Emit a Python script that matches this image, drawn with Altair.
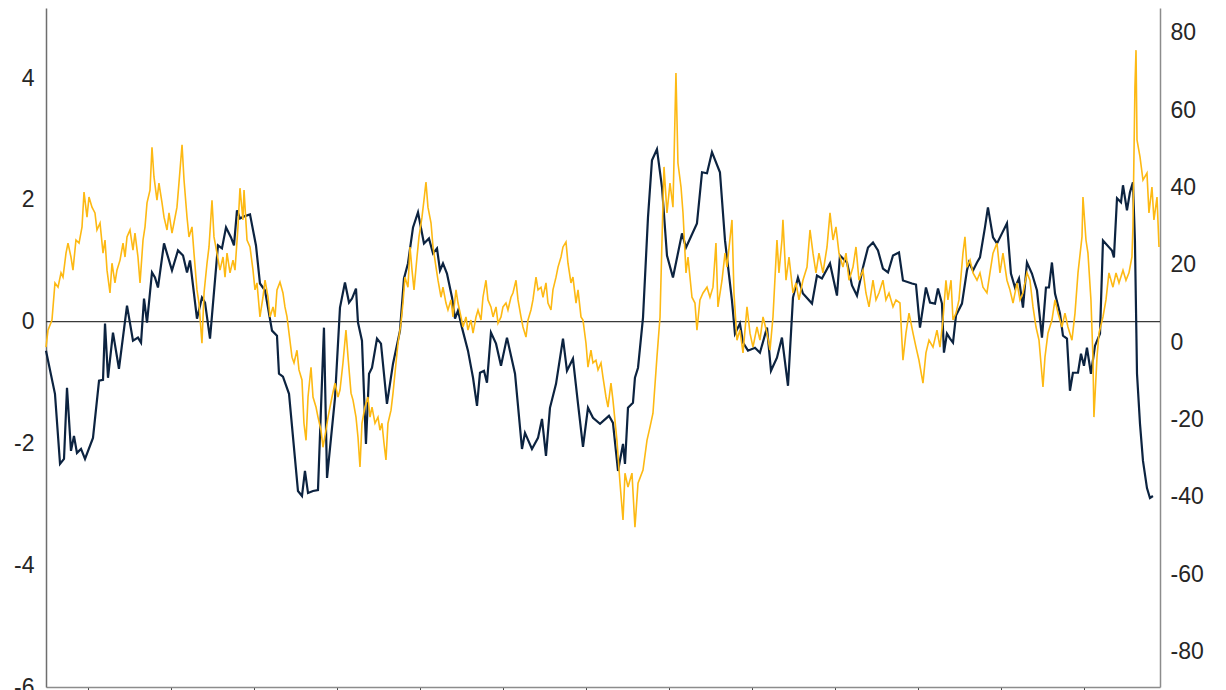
import altair as alt
import pandas as pd

# time in years relative to the first x-axis tick
navy_t = [
    -0.506, -0.398, -0.337, -0.289, -0.253, -0.205, -0.169, -0.133, -0.084, -0.036,
    0.060, 0.133, 0.181, 0.205, 0.241, 0.301, 0.373, 0.470, 0.542, 0.602,
    0.639, 0.675, 0.711, 0.771, 0.807, 0.843, 0.916, 1.012, 1.084, 1.145,
    1.193, 1.229, 1.313, 1.373, 1.410, 1.470, 1.566, 1.614, 1.663, 1.723,
    1.759, 1.795, 1.831, 1.880, 1.952, 2.024, 2.072, 2.133, 2.217, 2.277,
    2.301, 2.349, 2.422, 2.530, 2.578, 2.614, 2.651, 2.711, 2.771, 2.843,
    2.880, 2.976, 3.036, 3.096, 3.145, 3.181, 3.229, 3.253, 3.301, 3.349,
    3.386, 3.422, 3.482, 3.530, 3.602, 3.675, 3.759, 3.807, 3.855, 3.916,
    3.976, 4.048, 4.108, 4.157, 4.205, 4.241, 4.277, 4.325, 4.386, 4.422,
    4.458, 4.506, 4.578, 4.639, 4.687, 4.723, 4.771, 4.807, 4.855, 4.916,
    4.976, 5.048, 5.145, 5.229, 5.265, 5.349, 5.422, 5.470, 5.518, 5.566,
    5.639, 5.723, 5.771, 5.843, 5.904, 5.964, 6.024, 6.084, 6.169, 6.277,
    6.325, 6.386, 6.446, 6.470, 6.506, 6.566, 6.590, 6.627, 6.687, 6.747,
    6.795, 6.855, 6.916, 6.976, 7.048, 7.157, 7.205, 7.337, 7.398, 7.458,
    7.518, 7.614, 7.675, 7.759, 7.795, 7.855, 7.892, 7.952, 8.036, 8.096,
    8.181, 8.229, 8.301, 8.361, 8.434, 8.494, 8.554, 8.614, 8.723, 8.783,
    8.843, 8.940, 9.024, 9.060, 9.145, 9.205, 9.265, 9.337, 9.398, 9.458,
    9.518, 9.578, 9.639, 9.699, 9.771, 9.819, 9.928, 9.976, 10.024, 10.096,
    10.145, 10.205, 10.241, 10.289, 10.313, 10.349, 10.386, 10.422, 10.458, 10.530,
    10.590, 10.614, 10.663, 10.711, 10.747, 10.807, 10.843, 10.904, 10.952, 11.012,
    11.072, 11.120, 11.169, 11.217, 11.265, 11.313, 11.373, 11.434, 11.494, 11.542,
    11.578, 11.614, 11.651, 11.711, 11.747, 11.795, 11.831, 11.867, 11.928, 11.964,
    12.000, 12.036, 12.084, 12.133, 12.193, 12.229, 12.337, 12.361, 12.398, 12.446,
    12.470, 12.518, 12.554, 12.590, 12.614, 12.639, 12.675, 12.711, 12.759, 12.795,
    12.831,
]
navy_v = [
    -0.477, -1.185, -2.337, -2.255, -1.086, -2.123, -1.877, -2.156, -2.091, -2.255,
    -1.909, -0.971, -0.955, -0.033, -0.922, -0.181, -0.774, 0.263, -0.313, -0.263,
    -0.346, 0.379, -0.016, 0.807, 0.724, 0.560, 1.284, 0.840, 1.169, 1.086,
    0.807, 1.004, 0.049, 0.395, 0.313, -0.280, 1.251, 1.202, 1.547, 1.383,
    1.251, 1.827, 1.695, 1.728, 1.761, 1.251, 0.626, 0.510, -0.148, -0.230,
    -0.856, -0.905, -1.185, -2.782, -2.864, -2.453, -2.815, -2.782, -2.765, -0.099,
    -2.568, -1.251, 0.230, 0.642, 0.313, 0.379, 0.543, -0.016, -0.313, -2.008,
    -0.856, -0.757, -0.280, -0.362, -1.350, -0.691, -0.148, 0.708, 0.955, 1.547,
    1.794, 1.284, 1.366, 1.119, 1.202, 0.840, 0.955, 0.790, 0.395, 0.049,
    0.181, -0.099, -0.477, -0.922, -1.383, -0.840, -0.807, -1.004, -0.181, -0.362,
    -0.724, -0.263, -0.856, -2.091, -1.827, -2.091, -1.909, -1.597, -2.206, -1.416,
    -1.021, -0.280, -0.807, -0.609, -1.350, -2.058, -1.416, -1.580, -1.679, -1.547,
    -1.663, -2.453, -2.008, -2.337, -1.416, -1.333, -0.922, -0.757, 0.066, 1.712,
    2.650, 2.831, 2.206, 1.086, 0.724, 1.449, 1.218, 1.613, 2.453, 2.436,
    2.782, 2.453, 1.333, 0.346, -0.198, -0.033, -0.346, -0.477, -0.428, -0.510,
    -0.099, -0.807, -0.593, -0.263, -1.054, 0.395, 0.724, 0.461, 0.296, 0.757,
    0.708, 0.955, 0.428, 1.086, 0.971, 0.593, 0.428, 0.889, 1.218, 1.300,
    1.169, 0.872, 0.807, 1.086, 1.136, 0.675, 0.626, 0.609, -0.099, 0.560,
    0.313, 0.296, 0.543, 0.296, -0.510, -0.198, -0.280, -0.346, 0.099, 0.296,
    0.840, 0.971, 0.840, 0.971, 1.054, 1.547, 1.877, 1.383, 1.284, 1.449,
    1.613, 0.790, 0.560, 0.708, 0.230, 0.971, 0.790, 0.510, -0.263, 0.560,
    0.560, 0.971, 0.461, 0.132, -0.230, -0.280, -1.136, -0.840, -0.840, -0.527,
    -0.724, -0.428, -0.856, -0.395, -0.198, 1.333, 1.169, 1.054, 2.025, 1.959,
    2.239, 1.827, 2.123, 2.288, 1.333, -0.856, -1.679, -2.288, -2.733, -2.897,
    -2.864,
]

gold_t = [
    -0.506, -0.482, -0.434, -0.398, -0.361, -0.325, -0.301, -0.265, -0.241, -0.205,
    -0.181, -0.145, -0.108, -0.072, -0.048, -0.012, 0.012, 0.048, 0.084, 0.108,
    0.145, 0.181, 0.205, 0.229, 0.265, 0.289, 0.325, 0.349, 0.386, 0.422,
    0.446, 0.470, 0.506, 0.542, 0.566, 0.602, 0.627, 0.663, 0.687, 0.711,
    0.747, 0.771, 0.795, 0.831, 0.855, 0.892, 0.916, 0.952, 0.976, 1.012,
    1.036, 1.072, 1.096, 1.133, 1.157, 1.193, 1.217, 1.253, 1.277, 1.313,
    1.337, 1.373, 1.398, 1.434, 1.458, 1.494, 1.518, 1.554, 1.590, 1.627,
    1.651, 1.675, 1.711, 1.747, 1.771, 1.807, 1.831, 1.867, 1.880, 1.916,
    1.952, 1.988, 2.012, 2.036, 2.072, 2.108, 2.133, 2.169, 2.193, 2.229,
    2.253, 2.277, 2.313, 2.349, 2.373, 2.398, 2.422, 2.458, 2.482, 2.518,
    2.542, 2.578, 2.602, 2.627, 2.651, 2.687, 2.711, 2.747, 2.771, 2.807,
    2.831, 2.867, 2.892, 2.940, 2.976, 3.012, 3.036, 3.072, 3.108, 3.133,
    3.169, 3.193, 3.229, 3.253, 3.277, 3.301, 3.337, 3.373, 3.398, 3.422,
    3.458, 3.494, 3.518, 3.542, 3.566, 3.590, 3.614, 3.651, 3.675, 3.711,
    3.735, 3.771, 3.795, 3.819, 3.855, 3.880, 3.904, 3.928, 3.964, 3.988,
    4.024, 4.048, 4.072, 4.096, 4.133, 4.157, 4.193, 4.217, 4.253, 4.277,
    4.313, 4.337, 4.373, 4.398, 4.434, 4.458, 4.494, 4.518, 4.554, 4.578,
    4.614, 4.639, 4.675, 4.699, 4.735, 4.759, 4.795, 4.819, 4.855, 4.880,
    4.916, 4.940, 4.976, 5.000, 5.036, 5.060, 5.096, 5.120, 5.157, 5.181,
    5.217, 5.241, 5.277, 5.301, 5.337, 5.361, 5.398, 5.422, 5.458, 5.482,
    5.518, 5.542, 5.578, 5.602, 5.639, 5.663, 5.699, 5.723, 5.759, 5.783,
    5.819, 5.843, 5.880, 5.904, 5.940, 5.964, 6.000, 6.024, 6.060, 6.084,
    6.120, 6.145, 6.181, 6.205, 6.241, 6.265, 6.301, 6.325, 6.373, 6.410,
    6.446, 6.470, 6.506, 6.554, 6.590, 6.627, 6.687, 6.735, 6.771, 6.807,
    6.855, 6.892, 6.916, 6.940, 6.976, 7.012, 7.048, 7.084, 7.108, 7.145,
    7.169, 7.205, 7.229, 7.277, 7.313, 7.337, 7.373, 7.410, 7.458, 7.494,
    7.530, 7.566, 7.590, 7.639, 7.675, 7.699, 7.759, 7.783, 7.819, 7.855,
    7.892, 7.940, 7.976, 8.012, 8.060, 8.096, 8.133, 8.181, 8.217, 8.253,
    8.301, 8.325, 8.361, 8.373, 8.410, 8.446, 8.494, 8.530, 8.566, 8.614,
    8.663, 8.699, 8.735, 8.771, 8.807, 8.855, 8.904, 8.940, 8.976, 9.012,
    9.048, 9.096, 9.133, 9.169, 9.217, 9.253, 9.289, 9.337, 9.373, 9.410,
    9.458, 9.494, 9.530, 9.578, 9.614, 9.651, 9.699, 9.735, 9.783, 9.819,
    9.855, 9.892, 9.940, 9.976, 10.012, 10.060, 10.096, 10.133, 10.181, 10.229,
    10.265, 10.301, 10.337, 10.361, 10.398, 10.422, 10.458, 10.494, 10.542, 10.566,
    10.590, 10.627, 10.663, 10.711, 10.747, 10.783, 10.831, 10.867, 10.904, 10.952,
    10.988, 11.024, 11.072, 11.108, 11.145, 11.193, 11.229, 11.265, 11.313, 11.349,
    11.386, 11.422, 11.458, 11.506, 11.530, 11.566, 11.614, 11.651, 11.687, 11.735,
    11.771, 11.807, 11.855, 11.892, 11.928, 11.976, 11.988, 12.024, 12.048, 12.084,
    12.108, 12.120, 12.157, 12.181, 12.229, 12.265, 12.301, 12.349, 12.386, 12.422,
    12.470, 12.506, 12.542, 12.578, 12.590, 12.614, 12.627, 12.639, 12.675, 12.711,
    12.759, 12.783, 12.819, 12.843, 12.880, 12.904,
]
gold_v = [
    -1.3, 3.1, 5.7, 15.3, 14.2, 17.9, 16.8, 23.0, 25.6, 22.0,
    18.6, 26.4, 25.6, 29.8, 38.8, 32.3, 37.5, 34.9, 33.4, 29.0,
    30.8, 23.0, 26.4, 18.6, 12.7, 20.4, 15.3, 18.6, 21.2, 25.6,
    22.0, 27.2, 29.0, 23.8, 28.2, 22.0, 15.3, 26.4, 29.8, 36.0,
    39.3, 50.4, 42.7, 36.7, 41.1, 36.0, 32.3, 29.0, 33.4, 28.2,
    30.8, 34.9, 41.1, 51.0, 41.9, 32.3, 27.2, 29.8, 23.0, 13.5,
    10.1, -0.3, 12.7, 20.4, 24.6, 36.7, 27.2, 23.0, 18.6, 22.0,
    16.8, 23.0, 17.9, 21.2, 18.6, 29.8, 39.8, 31.6, 39.3, 26.4,
    24.6, 18.6, 13.5, 15.3, 6.5, 11.6, 16.0, 11.6, 6.5, 9.1,
    6.5, 13.5, 15.5, 12.7, 9.1, 6.5, 2.3, -3.9, -5.4, -2.1,
    -7.2, -9.8, -21.0, -25.4, -14.2, -6.5, -14.2, -16.8, -19.4, -22.8,
    -27.2, -22.8, -19.4, -14.2, -10.6, -14.2, -12.4, -5.4, 3.1, -3.9,
    -13.2, -15.0, -19.4, -24.6, -32.3, -21.0, -16.8, -14.2, -19.4, -16.8,
    -21.0, -19.4, -22.8, -21.0, -26.1, -30.5, -21.0, -17.6, -13.2, -5.4,
    -0.3, 4.9, 10.1, 16.8, 14.2, 24.6, 18.6, 13.5, 22.0, 27.2,
    32.3, 36.7, 41.4, 34.9, 30.8, 24.6, 19.4, 16.0, 11.6, 14.2,
    10.1, 8.3, 10.9, 6.5, 13.5, 10.1, 6.5, 3.9, 6.5, 3.1,
    5.7, 2.3, 6.5, 8.3, 5.7, 11.6, 16.0, 10.9, 9.1, 6.5,
    9.1, 4.9, 6.5, 9.1, 10.1, 8.3, 11.6, 12.7, 16.0, 10.9,
    6.5, 3.9, 1.3, 5.7, 8.3, 10.9, 16.8, 13.5, 14.2, 11.6,
    15.3, 10.1, 8.3, 13.5, 16.8, 19.4, 22.0, 24.6, 25.9, 20.4,
    15.3, 16.8, 10.1, 13.5, 6.5, 5.7, -0.3, -6.5, -2.1, -5.4,
    -4.7, -7.2, -5.4, -9.1, -14.2, -16.8, -10.6, -15.0, -25.4, -36.5,
    -46.0, -33.9, -37.5, -33.9, -47.9, -36.5, -33.1, -25.4, -22.0, -18.4,
    -3.9, 6.5, 26.4, 45.3, 33.4, 41.1, 34.9, 69.6, 46.3, 40.1,
    33.4, 17.9, 22.0, 11.6, 10.1, 3.1, 10.9, 12.7, 14.2, 11.6,
    14.2, 25.6, 9.1, 16.0, 23.0, 19.4, 31.6, 12.7, 0.5, 3.1,
    -2.8, 9.1, 2.3, -1.3, 3.9, 0.5, 6.5, 2.3, -2.1, 6.5,
    26.4, 17.9, 26.4, 31.6, 16.0, 22.0, 12.7, 15.3, 10.9, 16.0,
    19.4, 29.0, 23.0, 17.9, 23.0, 17.9, 24.6, 33.4, 26.4, 29.8,
    23.0, 19.4, 23.0, 16.0, 19.4, 24.6, 16.0, 18.6, 12.7, 9.1,
    16.0, 10.9, 12.7, 16.0, 10.9, 12.7, 9.1, 10.9, 10.1, -4.7,
    2.3, 7.5, 2.3, -1.3, -4.7, -10.6, -2.8, 0.5, -1.3, 3.1,
    -1.3, 5.7, 16.0, 10.9, 16.0, 5.7, 7.5, 10.9, 23.0, 27.2,
    19.4, 21.2, 17.9, 16.0, 17.9, 14.2, 12.7, 17.9, 23.0, 25.6,
    17.9, 23.0, 16.0, 13.5, 10.1, 15.3, 10.9, 12.7, 17.9, 16.0,
    9.1, 3.9, 0.5, -11.6, -3.9, 2.3, 5.7, 10.9, 7.5, 3.9,
    7.5, 3.9, 0.5, 7.5, 17.9, 27.2, 37.5, 26.4, 23.0, 10.9,
    -3.9, -19.4, -3.9, 2.3, 6.5, 10.9, 17.9, 14.2, 17.9, 15.3,
    18.6, 16.0, 17.9, 22.0, 29.8, 66.0, 75.5, 52.3, 47.9, 41.9,
    43.7, 33.4, 40.1, 31.6, 37.5, 24.6,
]

year_ticks = list(range(0, 13))
left_ticks = [-6, -4, -2, 0, 2, 4]
right_ticks = [-80, -60, -40, -20, 0, 20, 40, 60, 80]

assert len(navy_t) == len(navy_v), (len(navy_t), len(navy_v))
assert len(gold_t) == len(gold_v), (len(gold_t), len(gold_v))

navy_df = pd.DataFrame({"t": navy_t, "v": navy_v})
gold_df = pd.DataFrame({"t": gold_t, "g": gold_v})
zero_df = pd.DataFrame({"v": [0.0]})

FONT = "Liberation Sans"
x_scale = alt.Scale(domain=[-0.506, 12.916], nice=False, zero=False)
left_scale = alt.Scale(domain=[-6, 5.15], nice=False, zero=False)
right_scale = alt.Scale(domain=[-89.2, 86.4], nice=False, zero=False)

x_axis = alt.Axis(values=year_ticks, labels=False, ticks=True, tickSize=5,
                  tickColor="#444444", tickWidth=1, domainColor="#8c8c8c",
                  domainWidth=1.5, grid=False, title=None)
left_axis = alt.Axis(orient="left", values=left_ticks, ticks=False, labelPadding=12,
                     domainColor="#6e6e6e", domainWidth=1.5, grid=False, title=None,
                     labelFont=FONT, labelFontSize=23, labelColor="#262626",
                     labelFlush=False, labelOverlap=False,
                     labelExpr="'' + datum.value")
right_axis = alt.Axis(orient="right", values=right_ticks, ticks=False, labelPadding=10,
                      domainColor="#8c8c8c", domainWidth=1.5, grid=False, title=None,
                      labelFont=FONT, labelFontSize=23, labelColor="#262626",
                      labelFlush=False, labelOverlap=False,
                      labelExpr="'' + datum.value")

zero = alt.Chart(zero_df).mark_rule(color="#3a3a3a", strokeWidth=1.3).encode(
    y=alt.Y("v:Q", scale=left_scale, axis=left_axis)
)
navy = alt.Chart(navy_df).mark_line(color="#0c2340", strokeWidth=2.2).encode(
    x=alt.X("t:Q", scale=x_scale, axis=x_axis),
    y=alt.Y("v:Q", scale=left_scale, axis=left_axis),
)
gold = alt.Chart(gold_df).mark_line(color="#fdb913", strokeWidth=1.6).encode(
    x=alt.X("t:Q", scale=x_scale, axis=x_axis),
    y=alt.Y("g:Q", scale=right_scale, axis=right_axis),
)

left_layer = alt.layer(zero, navy)
chart = (
    alt.layer(left_layer, gold)
    .resolve_scale(y="independent")
    .properties(
        width=1114,
        height=679,
        padding={"left": 38, "top": 0, "right": 58, "bottom": 4},
        autosize=alt.AutoSizeParams(type="none"),
    )
    .configure_view(stroke=None)
)

chart.save("out.html", embed_options={"renderer": "svg", "actions": False})
